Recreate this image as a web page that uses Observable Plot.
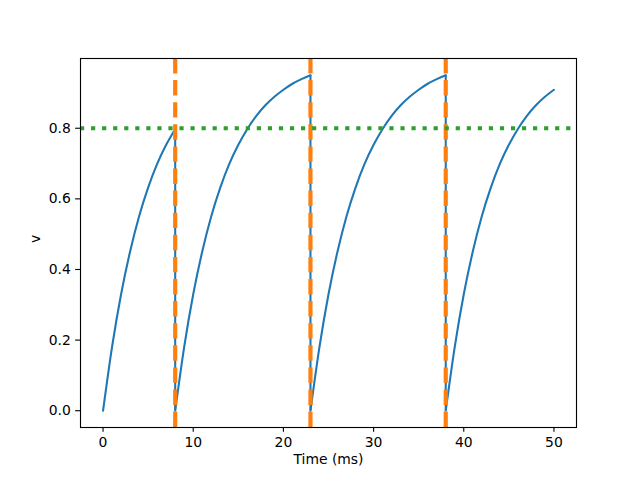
<!DOCTYPE html>
<html><head><meta charset="utf-8">
<script src="https://cdn.jsdelivr.net/npm/d3@7"></script>
<script src="https://cdn.jsdelivr.net/npm/@observablehq/plot@0.6"></script>
<style>body{margin:0;background:#fff}</style>
</head><body><div id="chart"></div>
<script>
// Membrane potential trace (ms, v); repeated times mark resets
const time = [
  0,1,2,3,4,5,6,7,8,
  8,9,10,11,12,13,14,15,16,17,18,19,20,21,22,23,
  23,24,25,26,27,28,29,30,31,32,33,34,35,36,37,38,
  38,39,40,41,42,43,44,45,46,47,48,49,50
];
const voltage = [
  0,0.181,0.330,0.451,0.551,0.632,0.699,0.753,0.798,
  0,0.181,0.330,0.451,0.551,0.632,0.699,0.753,0.798,0.835,0.865,0.889,0.909,0.926,0.939,0.950,
  0,0.181,0.330,0.451,0.551,0.632,0.699,0.753,0.798,0.835,0.865,0.889,0.909,0.926,0.939,0.950,
  0,0.181,0.330,0.451,0.551,0.632,0.699,0.753,0.798,0.835,0.865,0.889,0.909
];
const spikeTimes = [8, 23, 38];
const threshold = [0.8];
const xTicks = [0, 10, 20, 30, 40, 50];
const yTicks = [0, 0.2, 0.4, 0.6, 0.8];
const xLabel = "Time (ms)";
const yLabel = "v";

const xDomain = [-2.5, 52.5];
const yDomain = [-0.0475, 0.9975];

let seg = 0;
const points = time.map((t, i) => {
  if (i > 0 && t === time[i - 1]) seg++;
  return {t, v: voltage[i], seg};
});
const drops = spikeTimes.map(s => ({
  t: s,
  peak: d3.max(points.filter(p => p.t === s), p => p.v)
}));

const chart = Plot.plot({
  width: 640, height: 480,
  marginLeft: 80, marginRight: 64, marginTop: 58, marginBottom: 53,
  style: {fontFamily: "DejaVu Sans", fontSize: "13.9px", color: "black", background: "white"},
  x: {domain: xDomain},
  y: {domain: yDomain},
  marks: [
    Plot.line(points, {x: "t", y: "v", z: "seg", stroke: "#1f77b4", strokeWidth: 2.08, curve: "monotone-x"}),
    Plot.ruleX(drops, {x: "t", y1: 0, y2: "peak", stroke: "#1f77b4", strokeWidth: 2.08}),
    Plot.ruleX(spikeTimes, {x: d => d, y1: () => yDomain[0], y2: () => yDomain[1],
      stroke: "#ff7f0e", strokeWidth: 4.17, strokeDasharray: "15.4,6.7"}),
    Plot.ruleY(threshold, {y: d => d, x1: () => xDomain[0], x2: () => xDomain[1],
      stroke: "#2ca02c", strokeWidth: 4.17, strokeDasharray: "4.17,6.88"}),
    Plot.axisX({ticks: xTicks, tickSize: 4.86, tickPadding: 4.86, label: null, strokeWidth: 1.11}),
    Plot.axisY({ticks: yTicks, tickFormat: d3.format(".1f"), tickSize: 4.86, tickPadding: 4.86, label: null, strokeWidth: 1.11}),
    Plot.frame({stroke: "black", strokeWidth: 1.11}),
    Plot.text([xLabel], {frameAnchor: "bottom", dy: 36, fill: "black"}),
    Plot.text([yLabel], {frameAnchor: "left", dx: -45, rotate: -90, fill: "black"})
  ]
});
document.getElementById("chart").append(chart);
</script>
</body></html>
